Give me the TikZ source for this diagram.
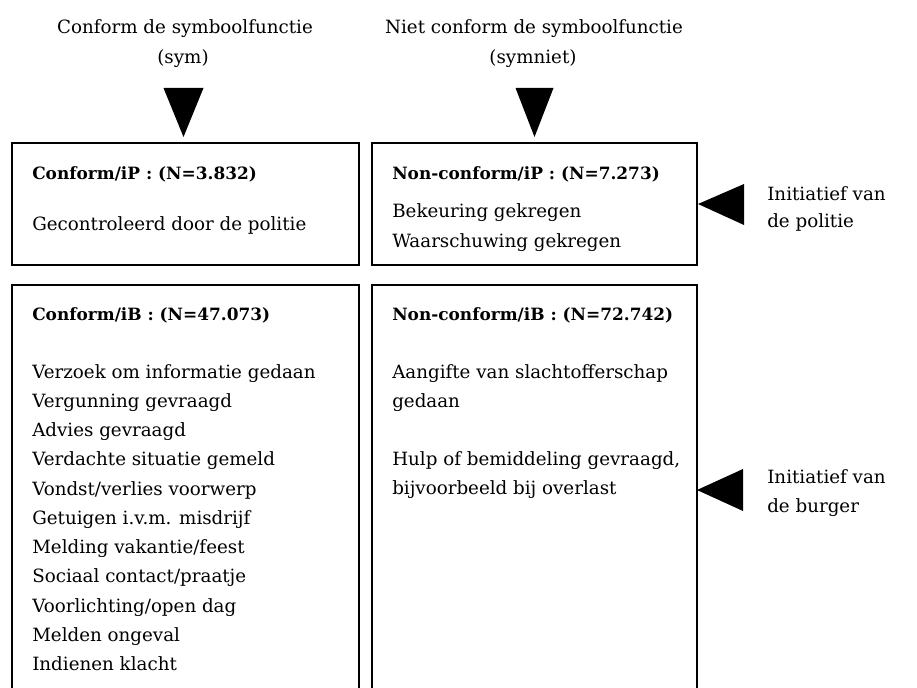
\documentclass[tikz,border=0pt]{standalone}
\usepackage{fontspec}
\setmainfont{DejaVu Serif}
\usetikzlibrary{fit}

\begin{document}
\begin{tikzpicture}[x=0.75pt,y=-0.75pt,
  panel/.style={draw,line width=1.5pt,rectangle,inner sep=0pt},
  txt/.style={anchor=base west,inner sep=0pt,font=\fontsize{13.7}{16}\selectfont},
  ttl/.style={txt,font=\fontsize{12.7}{15}\selectfont\bfseries},
  hdr/.style={anchor=base,inner sep=0pt,font=\fontsize{13.7}{16}\selectfont},
  pointer/.style={fill=black,draw=none}]
\useasboundingbox (0,0) rectangle (917,688);
\clip (0,0) rectangle (917,688);

% column headings
\node[hdr] (hsym) at (185,34) {Conform de symboolfunctie};
\node[hdr] (hsym2) at (183,64) {(sym)};
\node[hdr] (hnot) at (534,34) {Niet conform de symboolfunctie};
\node[hdr] (hnot2) at (533,64) {(symniet)};

% the four panels
\node[panel,fit={(12,143) (359,265)}] (cp) {};
\node[panel,fit={(372,143) (697,265)}] (np) {};
\node[panel,fit={(12,285) (359,700)}] (cb) {};
\node[panel,fit={(372,285) (697,700)}] (nb) {};

% downward pointers above the upper panels
\fill[pointer] (cp.north) ++(-2,-5) -- ++(-20,-49) -- ++(40,0) -- cycle;
\fill[pointer] (np.north) ++(0,-5) -- ++(-19,-49) -- ++(38,0) -- cycle;

% leftward pointers at the right of the panels
\coordinate (tipP) at (np.east);
\coordinate (tipB) at (697,490);
\fill[pointer] (tipP) -- ++(46,-20) -- ++(0,41) -- cycle;
\fill[pointer] (tipB) -- ++(46,-21) -- ++(0,42) -- cycle;

% row labels
\node[txt] (rp1) at (767,200) {Initiatief van};
\node[txt] (rp2) at (767,227) {de politie};
\node[txt] (rb1) at (767,483) {Initiatief van};
\node[txt] (rb2) at (767,512) {de burger};

% Conform / initiative police
\node[ttl] (cpt) at (32,180) {Conform/iP : (N=3.832)};
\node[txt] at (32,230) {Gecontroleerd door de politie};

% Non-conform / initiative police
\node[ttl] (npt) at (392,180) {Non-conform/iP : (N=7.273)};
\node[txt] at (392,217) {Bekeuring gekregen};
\node[txt] at (392,247) {Waarschuwing gekregen};

% Conform / initiative citizen
\node[ttl] (cbt) at (32,320) {Conform/iB : (N=47.073)};
\foreach \t [count=\i from 0] in {
  Verzoek om informatie gedaan,
  Vergunning gevraagd,
  Advies gevraagd,
  Verdachte situatie gemeld,
  Vondst/verlies voorwerp,
  Getuigen i.v.m. misdrijf,
  Melding vakantie/feest,
  Sociaal contact/praatje,
  Voorlichting/open dag,
  Melden ongeval,
  Indienen klacht}
  \node[txt] at (32,378+29.25*\i) {\t};

% Non-conform / initiative citizen
\node[ttl] (nbt) at (392,320) {Non-conform/iB : (N=72.742)};
\node[txt] at (392,378) {Aangifte van slachtofferschap};
\node[txt] at (392,407) {gedaan};
\node[txt] at (392,465) {Hulp of bemiddeling gevraagd,};
\node[txt] at (392,494) {bijvoorbeeld bij overlast};
\end{tikzpicture}
\end{document}
